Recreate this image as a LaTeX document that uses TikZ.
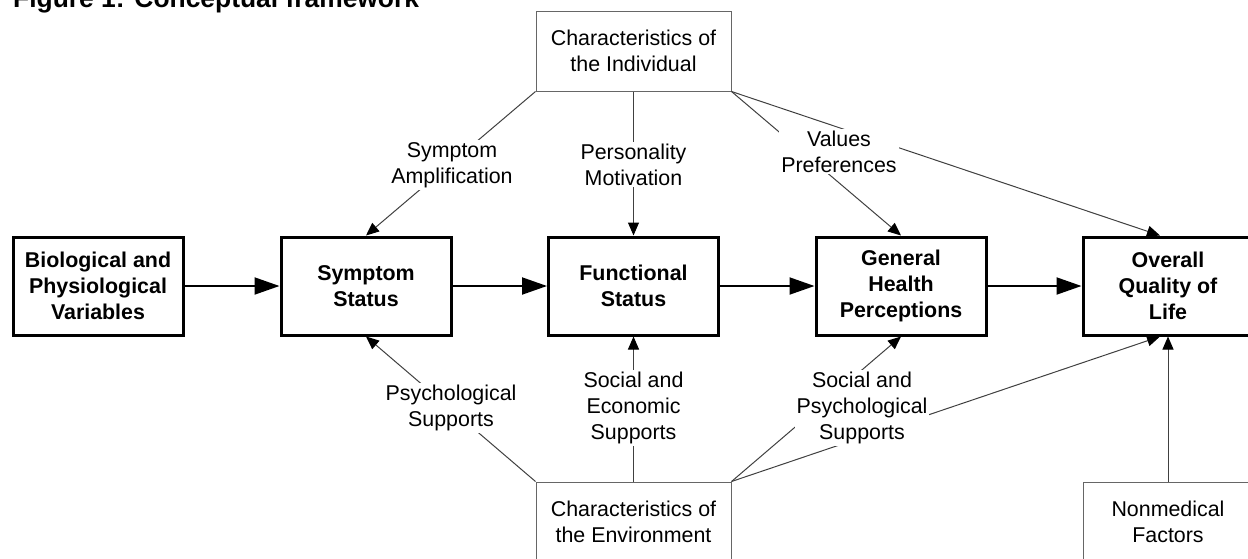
\documentclass[tikz,border=0pt]{standalone}
\usepackage{fontspec}
\setmainfont{Liberation Sans}
\usetikzlibrary{arrows.meta}

\begin{document}
\begin{tikzpicture}[x=1pt,y=-1pt]
    \tikzstyle{every node}=[font=\fontsize{21.4}{26}\selectfont, align=center]
    \tikzstyle{stage}=[rectangle, draw, line width=3pt, minimum width=170pt, minimum height=98pt, font=\fontsize{21.4}{26}\selectfont\bfseries]
    \tikzstyle{factor}=[rectangle, draw=black!60, line width=1pt, minimum width=195pt, minimum height=80pt]
    \tikzstyle{effect}=[fill=white, inner sep=2pt]
    \tikzstyle{main}=[line width=2pt, -{Triangle[length=25pt,width=17pt]}]
    \tikzstyle{side}=[draw=black!75, line width=1pt, -{Triangle[length=13pt,width=11pt,color=black]}]

    \useasboundingbox (0,0) rectangle (1248,558);
    \node[anchor=base west, inner sep=0pt, font=\fontsize{26.4}{30}\selectfont\bfseries] (title) at (13,7) {Figure 1: Conceptual framework};

    \node[stage] (bio) at (98,286) {Biological and\\Physiological\\Variables};
    \node[stage] (ss) at (366,286) {Symptom\\Status};
    \node[stage] (fs) at (633.5,286) {Functional\\Status};
    \node[stage] (gh) at (901,286) {General\\Health\\Perceptions};
    \node[stage] (ql) at (1168,286) {Overall\\Quality of\\Life};

    \node[factor] (ind) at (633.5,51) {Characteristics of\\the Individual};
    \node[factor] (env) at (633.5,522) {Characteristics of\\the Environment};
    \node[factor, minimum width=170pt] (nm) at (1168,522) {Nonmedical\\Factors};

    \draw[main] (bio) -- (ss);
    \draw[main] (ss) -- (fs);
    \draw[main] (fs) -- (gh);
    \draw[main] (gh) -- (ql);

    \draw[side] (ind.south west) -- (ss.north);
    \draw[side] (ind.south) -- (fs.north);
    \draw[side] (ind.south east) -- (gh.north);
    \draw[side] (ind.south east) -- ([xshift=-8pt]ql.north);
    \draw[side] (env.north west) -- (ss.south);
    \draw[side] (env.north) -- (fs.south);
    \draw[side] (env.north east) -- (gh.south);
    \draw[side] (env.north east) -- ([xshift=-8pt]ql.south);
    \draw[side] (nm) -- (ql);

    \node[effect] (amp) at (452,165) {Symptom\\Amplification};
    \node[effect] (pers) at (633.5,164.5) {Personality\\Motivation};
    \node[effect] (vals) at (839,151.5) {Values\\Preferences};
    \node[effect] (psy) at (451,408) {Psychological\\Supports};
    \node[effect] (socec) at (633.5,408) {Social and\\Economic\\Supports};
    \node[effect] (socpsy) at (862,408) {Social and\\Psychological\\Supports};
\end{tikzpicture}
\end{document}
